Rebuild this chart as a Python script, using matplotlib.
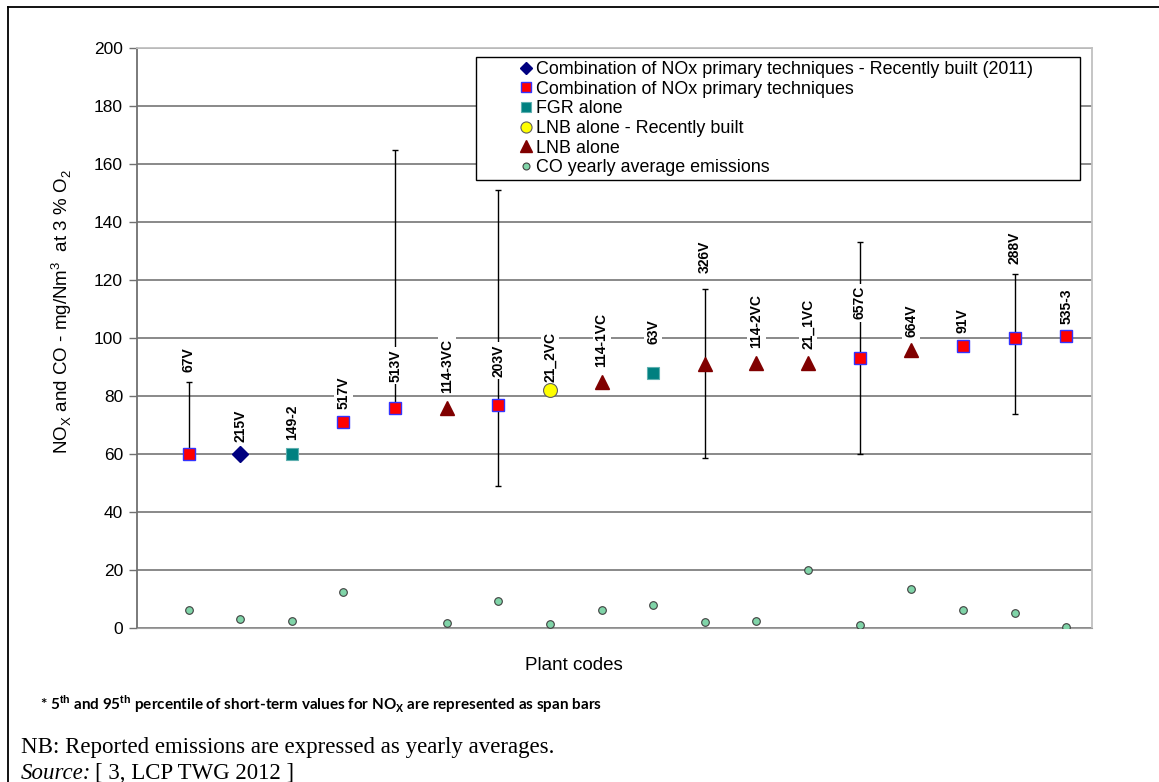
import numpy as np
import matplotlib
matplotlib.use('Agg')
import matplotlib.pyplot as plt
from matplotlib.lines import Line2D

plt.rcParams['font.family'] = 'Liberation Sans'
plt.rcParams['mathtext.fontset'] = 'custom'
plt.rcParams['mathtext.rm'] = 'Liberation Sans'
plt.rcParams['mathtext.bf'] = 'Liberation Sans:bold'

# plant data
codes = ['67V', '215V', '149-2', '517V', '513V', '114-3VC', '203V', '21_2VC', '114-1VC',
         '63V', '326V', '114-2VC', '21_1VC', '657C', '664V', '91V', '288V', '535-3']
tech = ['combo', 'combo_new', 'fgr', 'combo', 'combo', 'lnb', 'combo', 'lnb_new', 'lnb',
        'fgr', 'lnb', 'lnb', 'lnb', 'combo', 'lnb', 'combo', 'combo', 'combo']
nox = [60, 60, 60, 71, 76, 76, 77, 82, 85, 88, 91, 91.5, 91.5, 93, 96, 97.2, 100, 100.7]
p5 = [60, np.nan, np.nan, np.nan, 76, np.nan, 49, np.nan, np.nan, np.nan, 58.5, np.nan,
      np.nan, 60, np.nan, np.nan, 73.7, np.nan]
p95 = [85, np.nan, np.nan, np.nan, 165, np.nan, 151, np.nan, np.nan, np.nan, 117, np.nan,
       np.nan, 133, np.nan, np.nan, 122, np.nan]
co = [6.2, 3.1, 2.3, 12.3, np.nan, 1.9, 9.2, 1.3, 6.2, 8.0, 2.0, 2.3, 20, 1.0, 13.3, 6.2, 5.1, 0.2]
# where each code label starts (data units)
label_y = [88.3, 64.2, 64.8, 75.4, 84.9, 80.9, 86.7, 85, 89.9, 97.9, 122.3, 96.4, 96.1,
           106.4, 100.2, 101.6, 125.5, 104.7]

x = np.arange(1, len(codes) + 1)
nox = np.array(nox)
p5 = np.array(p5)
p95 = np.array(p95)
tech = np.array(tech)

fig = plt.figure(figsize=(11.59, 7.82), dpi=100)
ax = fig.add_axes([0.1182, 0.1969, 0.824, 0.7417])

# span bars
has = ~np.isnan(p95)
ax.errorbar(x[has], nox[has], yerr=[nox[has] - p5[has], p95[has] - nox[has]],
            fmt='none', ecolor='black', elinewidth=1, capsize=2.5, capthick=1, zorder=3)

styles = {
    'combo_new': dict(marker='D', ms=8, mfc='#000080', mec='#000080'),
    'combo': dict(marker='s', ms=9, mfc='#ff0000', mec='#3333ff', mew=1),
    'fgr': dict(marker='s', ms=9, mfc='#008080', mec='#5fb0b0', mew=0.8),
    'lnb_new': dict(marker='o', ms=10, mfc='#ffff00', mec='#606060', mew=0.8),
    'lnb': dict(marker='^', ms=10, mfc='#800000', mec='#800000'),
}
leg_ms = {'combo_new': 6, 'combo': 7.5, 'fgr': 7.5, 'lnb_new': 8, 'lnb': 8}
names = {
    'combo_new': 'Combination of NOx primary techniques - Recently built (2011)',
    'combo': 'Combination of NOx primary techniques',
    'fgr': 'FGR alone',
    'lnb_new': 'LNB alone - Recently built',
    'lnb': 'LNB alone',
}
handles = []
for key in ['combo_new', 'combo', 'fgr', 'lnb_new', 'lnb']:
    m = tech == key
    ax.plot(x[m], nox[m], linestyle='none', zorder=5, **styles[key])
    st = dict(styles[key])
    st['ms'] = leg_ms[key]
    handles.append(Line2D([], [], linestyle='none', label=names[key], **st))

co_style = dict(marker='o', mfc='#80d4a8', mec='#404040', mew=0.8)
ax.plot(x, co, linestyle='none', ms=5.5, zorder=5, **co_style)
handles.append(Line2D([], [], linestyle='none', ms=5, label='CO yearly average emissions', **co_style))

for xi, code, ly in zip(x, codes, label_y):
    ax.text(xi, ly, code, rotation=90, ha='center', va='bottom', fontsize=10,
            fontweight='bold', zorder=4,
            bbox=dict(facecolor='white', edgecolor='none', pad=1.5))

ax.set_xlim(0, 18.5)
ax.set_ylim(0, 200)
ax.set_yticks(np.arange(0, 201, 20))
ax.set_xticks([])
ax.grid(True, axis='y', color='#808080', linewidth=1.3, zorder=0)
ax.set_axisbelow(True)
for s in ['top', 'right']:
    ax.spines[s].set_color('#c0c0c0')
    ax.spines[s].set_linewidth(1.3)
ax.spines['bottom'].set_color('#a0a0a0')
ax.spines['left'].set_color('#707070')
ax.spines['left'].set_linewidth(1.3)
ax.tick_params(axis='y', direction='out', length=6, width=1, color='#707070', labelsize=12.5, pad=4)

ax.set_ylabel(r'NO$_\mathrm{X}$ and CO - mg/Nm$^3$  at 3 % O$_2$', fontsize=13.5)
ax.yaxis.set_label_coords(-0.066, 0.545)
ax.set_xlabel('Plant codes', fontsize=13.5)
ax.xaxis.set_label_coords(0.457, -0.05)

leg = ax.legend(handles=handles, loc='upper left', bbox_to_anchor=(0.355, 0.776, 0.632, 0.208),
                mode='expand', fontsize=12.9, frameon=True, fancybox=False, framealpha=1,
                edgecolor='black', handlelength=5.2, handletextpad=-2.05, labelspacing=0.15,
                borderpad=0.2, borderaxespad=0)
leg.get_frame().set_linewidth(1)
leg.set_zorder(10)

# page furniture
fig.add_artist(Line2D([0.0069, 1.0], [0.991, 0.991], color='black', lw=1.3))
fig.add_artist(Line2D([0.0069, 0.0069], [0.0, 0.991], color='black', lw=1.3))

fig.text(0.0345, 0.0997,
         r'* 5$^{\mathbf{th}}$ and 95$^{\mathbf{th}}$ percentile of short-term values for NO$_{\mathbf{X}}$ are represented as span bars',
         fontsize=11, fontweight='bold', family='Lato', va='center')
fig.text(0.018, 0.0435, 'NB: Reported emissions are expressed as yearly averages.',
         fontsize=16.5, family='Liberation Serif', va='center')
fig.text(0.018, 0.011, 'Source:', fontsize=16.5, family='Liberation Serif', style='italic', va='center')
fig.text(0.082, 0.011, '[ 3, LCP TWG 2012 ]', fontsize=16.5, family='Liberation Serif', va='center')

fig.savefig('out.png', dpi=100)
